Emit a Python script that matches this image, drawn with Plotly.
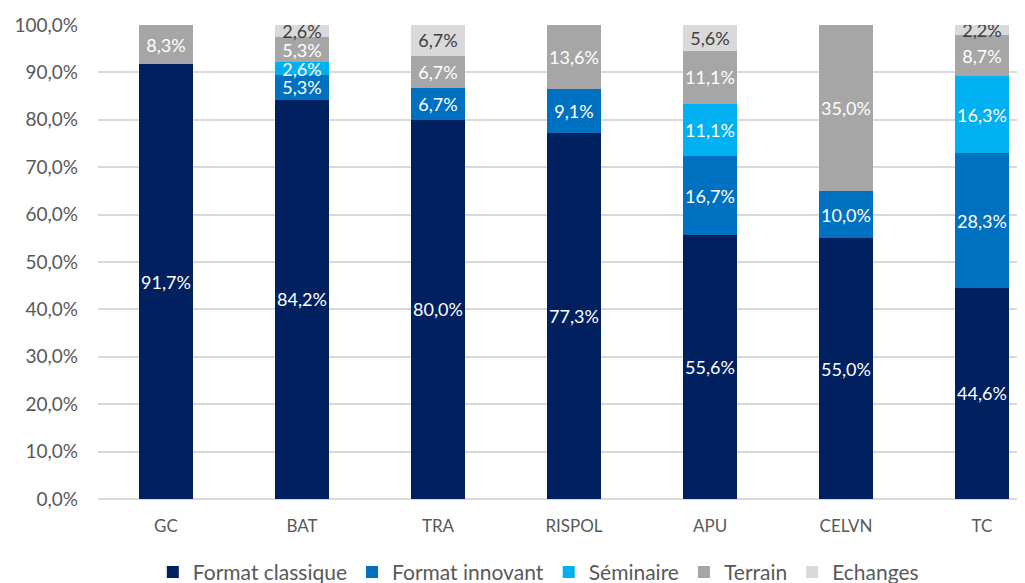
import plotly.graph_objects as go

categories = ["GC", "BAT", "TRA", "RISPOL", "APU", "CELVN", "TC"]

format_classique = [91.7, 84.2, 80.0, 77.3, 55.6, 55.0, 44.6]
format_innovant = [0, 5.3, 6.7, 9.1, 16.7, 10.0, 28.3]
seminaire = [0, 2.6, 0, 0, 11.1, 0, 16.3]
terrain = [8.3, 5.3, 6.7, 13.6, 11.1, 35.0, 8.7]
echanges = [0, 2.6, 6.7, 0, 5.6, 0, 2.2]

y_ticks = [0, 10, 20, 30, 40, 50, 60, 70, 80, 90, 100]

series = [
    ("Format classique", format_classique, "#002060", "white"),
    ("Format innovant", format_innovant, "#0070C0", "white"),
    ("Séminaire", seminaire, "#00B0F0", "white"),
    ("Terrain", terrain, "#A6A6A6", "white"),
    ("Echanges", echanges, "#D9D9D9", "#404040"),
]

FONT = "Lato, 'Open Sans', sans-serif"


def fmt(v):
    return f"{v:.1f}%".replace(".", ",") if v else ""


fig = go.Figure()
for name, vals, color, txt_color in series:
    fig.add_trace(go.Bar(
        name=name,
        x=categories,
        y=vals,
        marker=dict(color=color, line=dict(width=0)),
        width=0.4,
        text=[fmt(v) for v in vals],
        textposition="inside",
        insidetextanchor="middle",
        textangle=0,
        constraintext="none",
        textfont=dict(color=txt_color, size=18, family=FONT),
        hoverinfo="skip",
    ))

# page body adds an 8px offset, so the figure is sized and shifted to fit
fig.update_layout(
    barmode="stack",
    width=1017,
    height=575,
    margin=dict(l=90, r=0, t=17, b=84, autoexpand=False),
    paper_bgcolor="white",
    plot_bgcolor="white",
    font=dict(family=FONT, color="#595959", size=16),
    legend=dict(
        orientation="h",
        xref="paper",
        x=0.475,
        xanchor="center",
        yref="paper",
        y=-0.155,
        yanchor="middle",
        font=dict(size=21, color="#595959"),
        traceorder="normal",
    ),
    showlegend=True,
)

fig.update_xaxes(
    range=[-0.5, 6.316],
    showgrid=False,
    showline=False,
    ticks="",
    tickfont=dict(size=17, color="#595959"),
    ticklabelstandoff=15,
)
fig.update_yaxes(
    range=[0, 100],
    tickvals=y_ticks,
    ticktext=[fmt(v) if v else "0,0%" for v in y_ticks],
    showgrid=True,
    gridcolor="#D9D9D9",
    gridwidth=1.5,
    zeroline=True,
    zerolinecolor="#D9D9D9",
    zerolinewidth=1.5,
    tickfont=dict(size=19, color="#595959"),
    ticklabelstandoff=19,
)

fig.write_html("out.html")
